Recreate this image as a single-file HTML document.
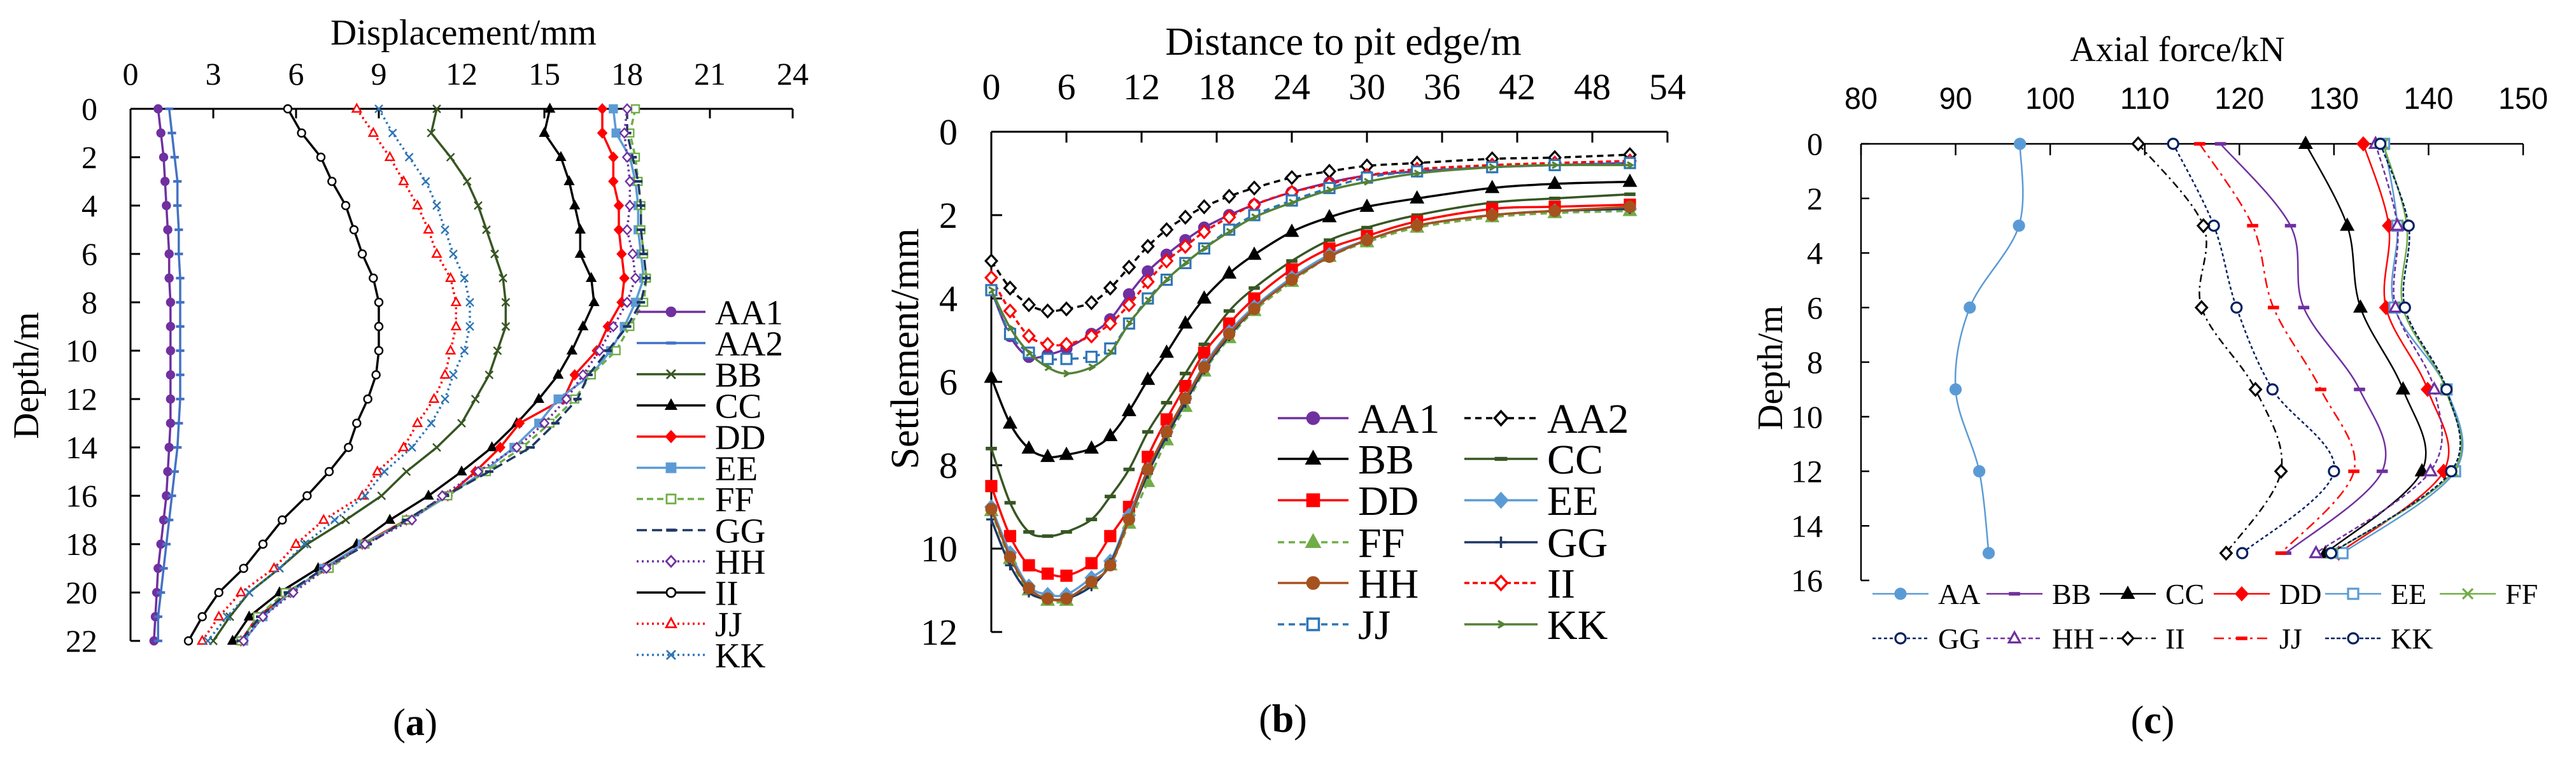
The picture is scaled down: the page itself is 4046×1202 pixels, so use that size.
<!DOCTYPE html>
<html><head><meta charset="utf-8">
<style>
html,body{margin:0;padding:0;background:#fff;}
svg{display:block;}
.serif{font-family:"Liberation Serif",serif;}
.sans{font-family:"Liberation Sans",sans-serif;}
</style></head>
<body>
<svg id="fig" width="4046" height="1202" viewBox="0 0 4046 1202" xmlns="http://www.w3.org/2000/svg"></svg>
<script>
// ---------- Panel (a) data: displacement (mm) vs depth (m) ----------
const aDepth = [0,1,2,3,4,5,6,7,8,9,10,11,12,13,14,15,16,17,18,19,20,21,22];
const aAA1 = [1.0,1.1,1.2,1.25,1.3,1.35,1.4,1.4,1.45,1.45,1.45,1.45,1.45,1.45,1.4,1.35,1.3,1.2,1.1,1.0,0.95,0.9,0.85];
const aAA2 = [1.4,1.5,1.6,1.7,1.7,1.75,1.75,1.8,1.8,1.8,1.8,1.8,1.8,1.75,1.7,1.6,1.5,1.4,1.3,1.2,1.1,1.0,1.0];
const aBB = [11.1,10.9,11.6,12.2,12.6,12.9,13.2,13.5,13.6,13.6,13.3,13.0,12.5,12.0,11.1,10.0,9.1,7.8,6.4,5.4,4.3,3.6,3.0];
const aCC = [15.2,15.0,15.6,15.9,16.1,16.3,16.3,16.7,16.8,16.4,16.0,15.5,14.8,14.0,13.1,12.0,10.8,9.4,8.2,6.8,5.4,4.3,3.7];
const aDD = [17.1,17.1,17.5,17.5,17.7,17.7,17.8,17.9,17.8,17.3,16.9,16.1,15.7,14.1,13.4,12.5,11.5,10.0,8.4,7.0,5.8,4.6,4.0];
const aEE = [17.5,17.6,18.1,18.3,18.4,18.4,18.5,18.6,18.3,17.9,17.4,16.7,15.5,14.8,13.9,12.8,11.5,10.1,8.4,7.0,5.8,4.8,4.1];
const aFF = [18.3,18.1,18.3,18.4,18.5,18.5,18.6,18.7,18.6,18.1,17.6,16.7,16.1,15.2,14.2,12.9,11.5,10.0,8.5,7.2,5.6,4.6,4.0];
const aGG = [18.0,18.0,18.2,18.4,18.5,18.5,18.6,18.7,18.5,18.0,17.3,16.6,16.2,15.4,14.5,13.0,11.4,10.0,8.6,7.0,5.7,4.7,4.0];
const aHH = [18.0,17.9,18.0,18.1,18.1,18.0,18.2,18.3,18.0,17.5,17.0,16.4,15.8,15.0,14.0,12.6,11.3,10.2,8.5,7.1,5.9,4.8,4.1];
const aII = [5.7,6.2,6.9,7.3,7.8,8.1,8.4,8.8,9.0,9.0,9.0,8.9,8.6,8.2,7.9,7.2,6.4,5.5,4.8,4.1,3.2,2.6,2.1];
const aJJ = [8.2,8.8,9.4,9.9,10.4,10.8,11.1,11.6,11.8,11.8,11.6,11.4,11.0,10.4,9.9,8.95,8.4,7.0,6.0,5.2,4.0,3.2,2.6];
const aKK = [9.0,9.5,10.1,10.7,11.1,11.4,11.7,12.1,12.3,12.3,12.1,11.7,11.4,10.9,10.2,9.2,8.5,7.4,6.3,5.4,4.3,3.5,2.8];
const aXTicks = [0,3,6,9,12,15,18,21,24];
const aYTicks = [0,2,4,6,8,10,12,14,16,18,20,22];

// ---------- Panel (b) data: settlement (mm) vs distance (m) ----------
const bDist = [0,1.5,3,4.5,6,8,9.5,11,12.5,14,15.5,17,19,21,24,27,30,34,40,45,51];
const bAA1 = [3.8,4.9,5.4,5.35,5.2,4.85,4.5,3.9,3.35,2.95,2.6,2.3,2.0,1.75,1.45,1.22,1.05,0.95,0.85,0.8,0.75];
const bAA2 = [3.1,3.75,4.15,4.3,4.25,4.1,3.75,3.25,2.75,2.35,2.05,1.8,1.55,1.35,1.1,0.95,0.82,0.75,0.65,0.62,0.55];
const bBB = [5.9,7.0,7.6,7.8,7.75,7.6,7.3,6.7,5.95,5.3,4.6,4.0,3.4,2.95,2.4,2.05,1.8,1.6,1.35,1.25,1.2];
const bCC = [7.6,8.9,9.6,9.7,9.6,9.3,8.75,8.1,7.2,6.5,5.8,5.1,4.3,3.75,3.1,2.6,2.3,2.0,1.7,1.6,1.5];
const bDD = [8.5,9.7,10.4,10.6,10.65,10.35,9.7,9.0,7.8,6.9,6.1,5.3,4.6,4.0,3.3,2.8,2.5,2.15,1.85,1.8,1.75];
const bEE = [9.0,10.1,10.9,11.1,11.1,10.7,10.3,9.2,8.1,7.2,6.4,5.6,4.8,4.2,3.5,2.95,2.6,2.25,2.0,1.9,1.85];
const bFF = [9.1,10.25,11.0,11.25,11.25,10.85,10.4,9.4,8.4,7.4,6.6,5.75,4.95,4.3,3.6,3.0,2.65,2.3,2.05,1.95,1.9];
const bGG = [9.3,10.4,11.05,11.2,11.2,10.9,10.35,9.3,8.2,7.3,6.5,5.7,4.9,4.25,3.55,3.0,2.6,2.25,2.0,1.9,1.85];
const bHH = [9.05,10.2,10.95,11.2,11.2,10.8,10.4,9.3,8.1,7.2,6.4,5.65,4.85,4.25,3.55,3.0,2.6,2.25,2.0,1.9,1.8];
const bII = [3.5,4.3,4.9,5.1,5.1,4.9,4.6,4.15,3.6,3.1,2.75,2.4,2.05,1.75,1.45,1.25,1.05,0.9,0.8,0.75,0.7];
const bJJ = [3.8,4.85,5.3,5.45,5.45,5.4,5.2,4.6,4.0,3.55,3.15,2.8,2.35,2.0,1.65,1.35,1.1,0.95,0.85,0.8,0.75];
const bKK = [3.8,4.7,5.3,5.65,5.8,5.65,5.3,4.6,4.05,3.55,3.15,2.8,2.4,2.05,1.7,1.4,1.2,1.0,0.85,0.8,0.8];
const bXTicks = [0,6,12,18,24,30,36,42,48,54];
const bYTicks = [0,2,4,6,8,10,12];

// ---------- Panel (c) data: axial force (kN) vs depth (m) ----------
const cDepth = [0,3,6,9,12,15];
const cAA = [96.8,96.7,91.5,90.0,92.5,93.5];
const cBB = [118.0,125.4,126.8,132.7,135.1,124.9];
const cCC = [127.0,131.4,132.8,137.3,139.3,129.1];
const cDD = [133.1,135.8,135.5,139.9,141.6,130.5];
const cEE = [135.3,136.7,136.4,141.9,142.8,130.9];
const cFF = [135.2,137.7,137.3,141.8,142.6,129.7];
const cGG = [113.0,117.3,119.7,123.5,130.0,120.3];
const cHH = [134.4,136.7,136.5,140.6,140.2,128.1];
const cII = [109.3,116.2,116.0,121.7,124.4,118.6];
const cJJ = [115.8,121.4,123.6,128.6,132.1,124.4];
const cKK = [134.9,137.9,137.5,141.9,142.4,129.7];
const cXTicks = [80,90,100,110,120,130,140,150];
const cYTicks = [0,2,4,6,8,10,12,14,16];

// ---------- helpers ----------
const NS = "http://www.w3.org/2000/svg";
const svg = document.getElementById('fig');
function mk(tag, attrs, parent){
  const e = document.createElementNS(NS, tag);
  for (const k in attrs) e.setAttribute(k, attrs[k]);
  (parent||svg).appendChild(e);
  return e;
}
function txt(s, x, y, size, cls, anchor, parent, extra){
  const t = mk('text', Object.assign({x:x, y:y, 'font-size':size, class:cls, 'text-anchor':anchor||'middle', fill:'#000'}, extra||{}), parent);
  t.textContent = s;
  return t;
}
function pathLinear(pts){ return pts.map((p,i)=>(i?'L':'M')+p[0].toFixed(1)+' '+p[1].toFixed(1)).join(' '); }
function pathSmooth(pts){
  let d = 'M'+pts[0][0].toFixed(1)+' '+pts[0][1].toFixed(1);
  for (let i=0;i<pts.length-1;i++){
    const p0=pts[i-1]||pts[i], p1=pts[i], p2=pts[i+1], p3=pts[i+2]||p2;
    const c1=[p1[0]+(p2[0]-p0[0])/6, p1[1]+(p2[1]-p0[1])/6];
    const c2=[p2[0]-(p3[0]-p1[0])/6, p2[1]-(p3[1]-p1[1])/6];
    d += ' C'+c1[0].toFixed(1)+' '+c1[1].toFixed(1)+' '+c2[0].toFixed(1)+' '+c2[1].toFixed(1)+' '+p2[0].toFixed(1)+' '+p2[1].toFixed(1);
  }
  return d;
}
function marker(g, type, x, y, r, color, filled){
  const fill = filled ? color : '#fff';
  const sw = Math.max(2, r*0.4);
  let e;
  if (type==='circle') e = mk('circle',{cx:x,cy:y,r:r,fill:fill,stroke:color,'stroke-width':sw},g);
  else if (type==='square') e = mk('rect',{x:x-r,y:y-r,width:2*r,height:2*r,fill:fill,stroke:color,'stroke-width':sw},g);
  else if (type==='diamond') e = mk('polygon',{points:`${x},${y-r*1.2} ${x+r*1.1},${y} ${x},${y+r*1.2} ${x-r*1.1},${y}`,fill:fill,stroke:color,'stroke-width':sw},g);
  else if (type==='triangle') e = mk('polygon',{points:`${x},${y-r*1.2} ${x+r*1.1},${y+r*0.8} ${x-r*1.1},${y+r*0.8}`,fill:fill,stroke:color,'stroke-width':sw},g);
  else if (type==='x') e = mk('path',{d:`M${x-r} ${y-r}L${x+r} ${y+r}M${x-r} ${y+r}L${x+r} ${y-r}`,stroke:color,'stroke-width':sw,fill:'none'},g);
  else if (type==='plus') e = mk('path',{d:`M${x-r} ${y}L${x+r} ${y}M${x} ${y-r}L${x} ${y+r}`,stroke:color,'stroke-width':sw,fill:'none'},g);
  else if (type==='dash') e = mk('rect',{x:x-r*1.1,y:y-r*0.35,width:2.2*r,height:r*0.7,fill:color},g);
  else if (type==='arrow') e = mk('path',{d:`M${x-r*0.5} ${y-r*0.6}L${x+r*0.5} ${y}L${x-r*0.5} ${y+r*0.6}`,stroke:color,'stroke-width':sw,fill:'none'},g);
  if (e) {
    
    
  }
}
function drawSeries(g, pts, st, smooth, r){
  const p = mk('path',{d: smooth?pathSmooth(pts):pathLinear(pts), fill:'none', stroke:st.c, 'stroke-width':st.w||3.5, 'stroke-dasharray':st.d||'none','stroke-linejoin':'round'}, g);
  
  
  pts.forEach(q=>marker(g, st.m, q[0], q[1], r, st.c, st.f));
}
function legendEntry(parent, x1, x2, y, st, label, size, r, font){
  const g = mk('g',{},parent);
  
  
  mk('line',{x1:x1,y1:y,x2:x2,y2:y,stroke:st.c,'stroke-width':st.w||3.5,'stroke-dasharray':st.d||'none'},g);
  marker(g, st.m, (x1+x2)/2, y, r, st.c, st.f);
  txt(label, x2+15, y+size*0.35, size, font, 'start', g);
}

// ---------- Panel (a) ----------
(function(){
  const X0=205, X1=1245, Y0=171, Y1=1007;
  const xa = v => X0 + v*(X1-X0)/24;
  const ya = d => Y0 + d*(Y1-Y0)/22;
  const g = mk('g',{});  
  const ax = mk('g',{},g);  
  mk('line',{x1:X0,y1:Y0,x2:X1,y2:Y0,stroke:'#000','stroke-width':3},ax);
  mk('line',{x1:X0,y1:Y0,x2:X0,y2:Y1,stroke:'#000','stroke-width':3},ax);
  aXTicks.forEach(v=>{ mk('line',{x1:xa(v),y1:Y0,x2:xa(v),y2:Y0+15,stroke:'#000','stroke-width':3},ax); txt(String(v), xa(v), 133, 50, 'serif','middle',ax); });
  aYTicks.forEach(v=>{ mk('line',{x1:X0,y1:ya(v),x2:X0+15,y2:ya(v),stroke:'#000','stroke-width':3},ax); txt(String(v), 153, ya(v)+17, 50, 'serif','end',ax); });
  const t1 = txt('Displacement/mm', 728, 70, 57, 'serif','middle',g);  
  const t2 = txt('Depth/m', 0, 0, 57, 'serif','middle',g,{transform:'translate(60,590) rotate(-90)'});  
  const styles = {
    AA1:{c:'#7030A0',m:'circle',f:true}, AA2:{c:'#4472C4',m:'dash',f:true}, BB:{c:'#375623',m:'x'},
    CC:{c:'#000',m:'triangle',f:true}, DD:{c:'#FF0000',m:'diamond',f:true}, EE:{c:'#5B9BD5',m:'square',f:true},
    FF:{c:'#70AD47',m:'square',f:false,d:'10 6'}, GG:{c:'#1F3864',m:'dash',f:true,d:'16 8'},
    HH:{c:'#7030A0',m:'diamond',f:false,d:'3 5'}, II:{c:'#000',m:'circle',f:false},
    JJ:{c:'#FF0000',m:'triangle',f:false,d:'3 5'}, KK:{c:'#2E75B6',m:'x',d:'3 5'}
  };
  const data = {AA1:aAA1,AA2:aAA2,BB:aBB,CC:aCC,DD:aDD,EE:aEE,FF:aFF,GG:aGG,HH:aHH,II:aII,JJ:aJJ,KK:aKK};
  const plot = mk('g',{},g);  
  Object.keys(data).forEach(k=>{
    const sg = mk('g',{},plot);  
    drawSeries(sg, data[k].map((v,i)=>[xa(v), ya(aDepth[i])]), styles[k], false, 6);
  });
  const lg = mk('g',{},g);  
  Object.keys(data).forEach((k,i)=> legendEntry(lg, 1000, 1108, 490+i*49, styles[k], k, 55, 7, 'serif'));
  const cap = txt('', 652, 1155, 60, 'serif','middle',g); cap.innerHTML = '(<tspan font-weight="bold">a</tspan>)';
   
})();

// ---------- Panel (b) ----------
(function(){
  const X0=1557, X1=2619, Y0=207, Y1=993;
  const xb = v => X0 + v*(X1-X0)/54;
  const yb = s => Y0 + s*(Y1-Y0)/12;
  const g = mk('g',{});  
  const ax = mk('g',{},g);  
  mk('line',{x1:X0,y1:Y0,x2:X1,y2:Y0,stroke:'#000','stroke-width':3},ax);
  mk('line',{x1:X0,y1:Y0,x2:X0,y2:Y1,stroke:'#000','stroke-width':3},ax);
  bXTicks.forEach(v=>{ mk('line',{x1:xb(v),y1:Y0,x2:xb(v),y2:Y0+17,stroke:'#000','stroke-width':3},ax); txt(String(v), xb(v), 156, 58, 'serif','middle',ax); });
  bYTicks.forEach(v=>{ mk('line',{x1:X0,y1:yb(v),x2:X0+17,y2:yb(v),stroke:'#000','stroke-width':3},ax); txt(String(v), 1504, yb(v)+20, 58, 'serif','end',ax); });
  const t1 = txt('Distance to pit edge/m', 2110, 86, 62, 'serif','middle',g);  
  const t2 = txt('Settlement/mm', 0, 0, 62, 'serif','middle',g,{transform:'translate(1442,548) rotate(-90)'});  
  const styles = {
    AA1:{c:'#7030A0',m:'circle',f:true}, AA2:{c:'#000',m:'diamond',f:false,d:'10 7'},
    BB:{c:'#000',m:'triangle',f:true}, CC:{c:'#375623',m:'dash',f:true},
    DD:{c:'#FF0000',m:'square',f:true}, EE:{c:'#5B9BD5',m:'diamond',f:true},
    FF:{c:'#70AD47',m:'triangle',f:true,d:'10 7'}, GG:{c:'#1F3864',m:'plus'},
    HH:{c:'#A5521E',m:'circle',f:true}, II:{c:'#FF0000',m:'diamond',f:false,d:'8 5'},
    JJ:{c:'#2E75B6',m:'square',f:false,d:'10 7'}, KK:{c:'#548235',m:'arrow'}
  };
  const data = {AA1:bAA1,AA2:bAA2,BB:bBB,CC:bCC,DD:bDD,EE:bEE,FF:bFF,GG:bGG,HH:bHH,II:bII,JJ:bJJ,KK:bKK};
  const plot = mk('g',{},g);  
  Object.keys(data).forEach(k=>{
    const sg = mk('g',{},plot);  
    drawSeries(sg, data[k].map((v,i)=>[xb(bDist[i]), yb(v)]), styles[k], true, 8);
  });
  const lg = mk('g',{},g);  
  const rows=[657,721,786,852,916,981];
  Object.keys(data).forEach((k,i)=>{
    const col=i%2, row=Math.floor(i/2);
    if(col===0) legendEntry(lg, 2007, 2118, rows[row], styles[k], k, 66, 9, 'serif');
    else legendEntry(lg, 2300, 2415, rows[row], styles[k], k, 66, 9, 'serif');
  });
  const cap = txt('', 2015, 1150, 62, 'serif','middle',g); cap.innerHTML = '(<tspan font-weight="bold">b</tspan>)';
   
})();

// ---------- Panel (c) ----------
(function(){
  const X0=2923, X1=3963, Y0=226, Y1=912;
  const xc = v => X0 + (v-80)*(X1-X0)/70;
  const yc = d => Y0 + d*(Y1-Y0)/16;
  const g = mk('g',{});  
  const ax = mk('g',{},g);  
  mk('line',{x1:X0,y1:Y0,x2:X1,y2:Y0,stroke:'#000','stroke-width':2.5},ax);
  mk('line',{x1:X0,y1:Y0,x2:X0,y2:Y1,stroke:'#000','stroke-width':2.5},ax);
  cXTicks.forEach(v=>{ mk('line',{x1:xc(v),y1:Y0,x2:xc(v),y2:Y0+18,stroke:'#000','stroke-width':2.5},ax); txt(String(v), xc(v), 171, 48, 'sans','middle',ax,{'textLength': v>=100?78:52, 'lengthAdjust':'spacingAndGlyphs'}); });
  cYTicks.forEach(v=>{ mk('line',{x1:X0,y1:yc(v),x2:X0+13,y2:yc(v),stroke:'#000','stroke-width':2.5},ax); txt(String(v), 2863, yc(v)+17, 50, 'serif','end',ax); });
  const t1 = txt('Axial  force/kN', 3420, 96, 56, 'serif','middle',g);  
  const t2 = txt('Depth/m', 0, 0, 56, 'serif','middle',g,{transform:'translate(2799,578) rotate(-90)'});  
  const styles = {
    AA:{c:'#5B9BD5',m:'circle',f:true,w:2.5}, BB:{c:'#7030A0',m:'dash',f:true,w:2.5},
    CC:{c:'#000',m:'triangle',f:true,w:2.5}, DD:{c:'#FF0000',m:'diamond',f:true,w:2.5},
    EE:{c:'#5B9BD5',m:'square',f:false,w:2.5}, FF:{c:'#70AD47',m:'x',w:2.5},
    GG:{c:'#002060',m:'circle',f:false,w:2.5,d:'5 4'}, HH:{c:'#7030A0',m:'triangle',f:false,w:2.5,d:'7 4'},
    II:{c:'#000',m:'diamond',f:false,w:2.5,d:'12 6 3 6'}, JJ:{c:'#FF0000',m:'dash',f:true,w:2.5,d:'16 7 4 7'},
    KK:{c:'#002060',m:'circle',f:false,w:2.5,d:'6 3'}
  };
  const data = {AA:cAA,BB:cBB,CC:cCC,DD:cDD,EE:cEE,FF:cFF,GG:cGG,HH:cHH,II:cII,JJ:cJJ,KK:cKK};
  const plot = mk('g',{},g);  
  Object.keys(data).forEach(k=>{
    const sg = mk('g',{},plot);  
    drawSeries(sg, data[k].map((v,i)=>[xc(v), yc(cDepth[i])]), styles[k], true, 8);
  });
  const lg = mk('g',{},g);  
  const cols=[2941,3120,3298,3477,3652,3832];
  Object.keys(data).forEach((k,i)=>{
    const row=Math.floor(i/6), col=i%6;
    legendEntry(lg, cols[col], cols[col]+88, [933,1003][row], styles[k], k, 46, 8, 'serif');
  });
  const cap = txt('', 3381, 1152, 62, 'serif','middle',g); cap.innerHTML = '(<tspan font-weight="bold">c</tspan>)';
   
})();
</script>
</body></html>
